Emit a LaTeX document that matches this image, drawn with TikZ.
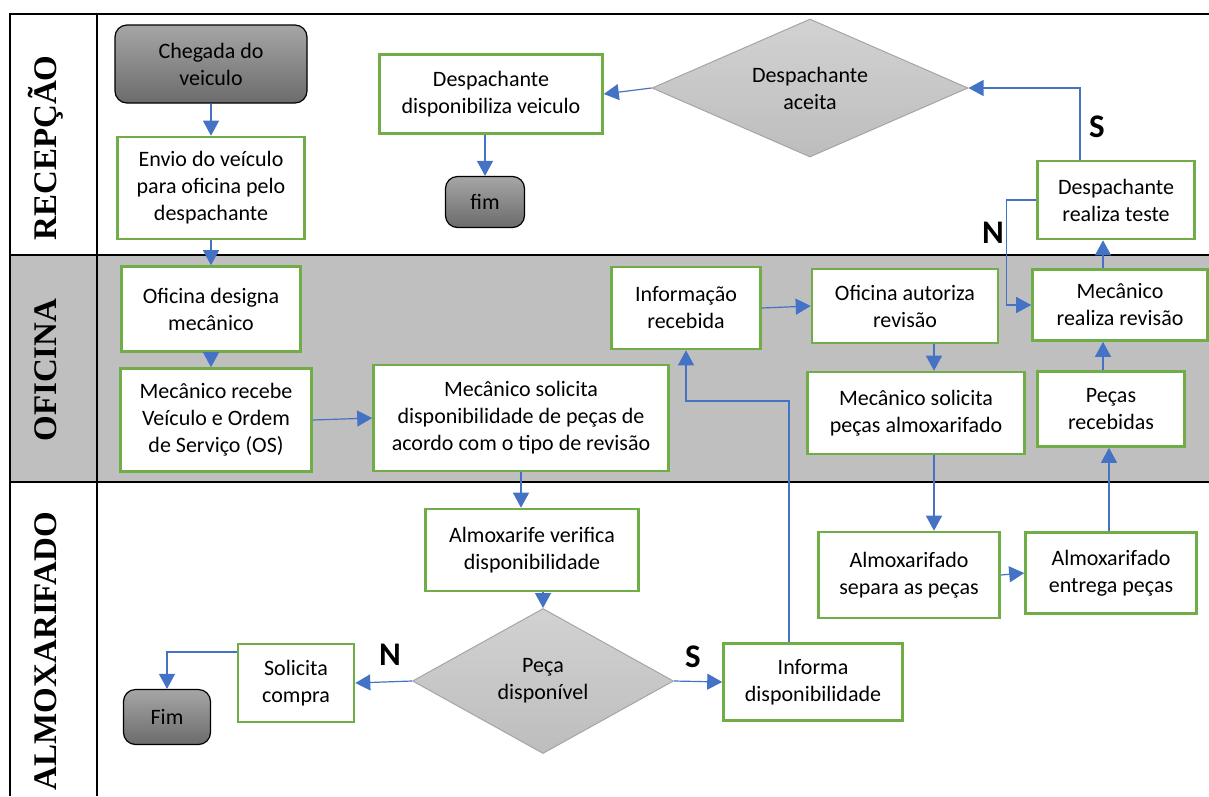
\documentclass[tikz,border=0pt]{standalone}
\usepackage{fontspec}
\setmainfont{Carlito}
\newfontfamily\serifraia{Liberation Serif}
\usetikzlibrary{arrows.meta,shapes.geometric,positioning}
\definecolor{verde}{HTML}{70AD47}
\definecolor{azul}{HTML}{4472C4}
\definecolor{cinzaRaia}{HTML}{BFBFBF}
\definecolor{losangoTopo}{HTML}{D2D2D2}
\definecolor{losangoBase}{HTML}{BDBDBD}
\definecolor{bordaLosango}{HTML}{A5A5A5}
\definecolor{cinzaTopo}{HTML}{A6A6A6}
\definecolor{cinzaBase}{HTML}{6B6B6B}

\begin{document}
\begin{tikzpicture}[x=1pt, y=-1pt, >={Triangle[length=15pt,width=16pt]},
  every node/.style={font=\fontsize{22}{27}\selectfont, align=center, inner sep=2pt},
  etapa/.style={draw=verde, line width=2.6pt, fill=white},
  terminal/.style={draw=black, line width=1.2pt, rounded corners=12pt, top color=cinzaTopo, bottom color=cinzaBase},
  decisao/.style={diamond, draw=bordaLosango, line width=1pt, top color=losangoTopo, bottom color=losangoBase, inner sep=0pt},
  seta/.style={->, draw=azul, line width=1.2pt},
  raia/.style={line width=2.4pt},
  rotulo/.style={rotate=90, font=\serifraia\bfseries\fontsize{33}{33}\selectfont},
  resposta/.style={font=\bfseries\fontsize{33}{33}\selectfont}]
\useasboundingbox (0,0) rectangle (1209,796);
\fill[cinzaRaia] (10,255) rectangle (1209,482);
\draw[raia] (10,796) -- (10,14) -- (1209,14);
\draw[raia] (97,14) -- (97,796);
\draw[raia] (10,255) -- (1209,255);
\draw[raia] (10,482) -- (1209,482);
\node[rotulo] (recepcao) at (46,148) {RECEPÇÃO};
\node[rotulo] (oficina) at (46,370) {OFICINA};
\node[rotulo] (almox) at (46,651) {ALMOXARIFADO};

\node[terminal, minimum width=192pt, minimum height=78pt] (chegada) at (211,64) {Chegada do\\veiculo};
\node[etapa, minimum width=187pt, minimum height=102pt] (envio) at (211,188) {Envio do veículo\\para oficina pelo\\despachante};
\node[etapa, minimum width=223pt, minimum height=79pt] (dispveic) at (491,94) {Despachante\\disponibiliza veiculo};
\node[terminal, minimum width=79pt, minimum height=51pt] (fimA) at (485,202) {fim};
\node[decisao, aspect=2.3, minimum width=316pt, minimum height=138pt] (aceita) at (810,88) {Despachante\\aceita};
\node[etapa, minimum width=157pt, minimum height=78pt] (teste) at (1116,200) {Despachante\\realiza teste};
\node[etapa, minimum width=175pt, minimum height=71pt] (revisao) at (1120,305) {Mecânico\\realiza revisão};
\node[etapa, minimum width=179pt, minimum height=85pt] (designa) at (211,309) {Oficina designa\\mecânico};
\node[etapa, minimum width=191pt, minimum height=103pt] (recebe) at (216,420) {Mecânico recebe\\Veículo e Ordem\\de Serviço (OS)};
\node[etapa, minimum width=295pt, minimum height=106pt] (soldisp) at (521,418) {Mecânico solicita\\disponibilidade de peças de\\acordo com o tipo de revisão};
\node[etapa, minimum width=149pt, minimum height=82pt] (inforec) at (686,308) {Informação\\recebida};
\node[etapa, minimum width=186pt, minimum height=74pt] (autoriza) at (905,306) {Oficina autoriza\\revisão};
\node[etapa, minimum width=217pt, minimum height=82pt] (solpecas) at (916,413) {Mecânico solicita\\peças almoxarifado};
\node[etapa, minimum width=147pt, minimum height=75pt] (recebidas) at (1111,409) {Peças\\recebidas};
\node[etapa, minimum width=213pt, minimum height=82pt] (verifica) at (532,550) {Almoxarife verifica\\disponibilidade};
\node[decisao, aspect=1.8, minimum width=261pt, minimum height=145pt] (pecadisp) at (543,681) {Peça\\disponível};
\node[etapa, minimum width=116pt, minimum height=78pt] (compra) at (296,683) {Solicita\\compra};
\node[terminal, minimum width=87pt, minimum height=55pt] (fimB) at (167,717) {Fim};
\node[etapa, minimum width=179pt, minimum height=77pt] (informa) at (813,682) {Informa\\disponibilidade};
\node[etapa, minimum width=181pt, minimum height=86pt] (separa) at (909,575) {Almoxarifado\\separa as peças};
\node[etapa, minimum width=171pt, minimum height=81pt] (entrega) at (1111,573) {Almoxarifado\\entrega peças};
\coordinate (retorno) at (789,401);

\draw[seta] (chegada.south) -- (envio.north);
\draw[seta] (envio.south) -- (designa.north);
\draw[seta] (designa.south) -- (designa.south |- recebe.north);
\draw[seta] (recebe.east) -- (soldisp.west);
\draw[seta] (soldisp.south) -- (soldisp.south |- verifica.north);
\draw[seta] (pecadisp.north |- verifica.south) -- (pecadisp.north);
\draw[seta] (pecadisp.west) -- (compra.east);
\draw[seta] (pecadisp.east) -- (informa.west);
\draw[seta] ([yshift=31pt]compra.west) -| (fimB.north);
\draw[seta] (retorno |- informa.north) -- (retorno) -| (inforec.south);
\draw[seta] (inforec.east) -- (autoriza.west);
\draw[seta] ([xshift=29pt]autoriza.south) -- ([xshift=29pt]autoriza.south |- solpecas.north);
\draw[seta] ([xshift=18pt]solpecas.south) -- ([xshift=18pt]solpecas.south |- separa.north);
\draw[seta] (separa.east) -- (entrega.west);
\draw[seta] ([xshift=-2pt]entrega.north) -- ([xshift=-2pt]recebidas.south);
\draw[seta] ([xshift=-8pt]recebidas.north) -- ([xshift=-8pt]recebidas.north |- revisao.south);
\draw[seta] ([xshift=-13pt]teste.south |- revisao.north) -- ([xshift=-13pt]teste.south);
\draw[seta] ([xshift=-36pt]teste.north) |- (aceita.east);
\draw[seta] (teste.west) -- ++(-30,0) |- (revisao.west);
\draw[seta] (aceita.west) -- (dispveic.east);
\draw[seta] (fimA.north |- dispveic.south) -- (fimA.north);

\node[resposta] (simA) at (1097,127) {S};
\node[resposta] (naoA) at (993,233) {N};
\node[resposta] (simB) at (693,657) {S};
\node[resposta] (naoB) at (390,655) {N};
\end{tikzpicture}
\end{document}
